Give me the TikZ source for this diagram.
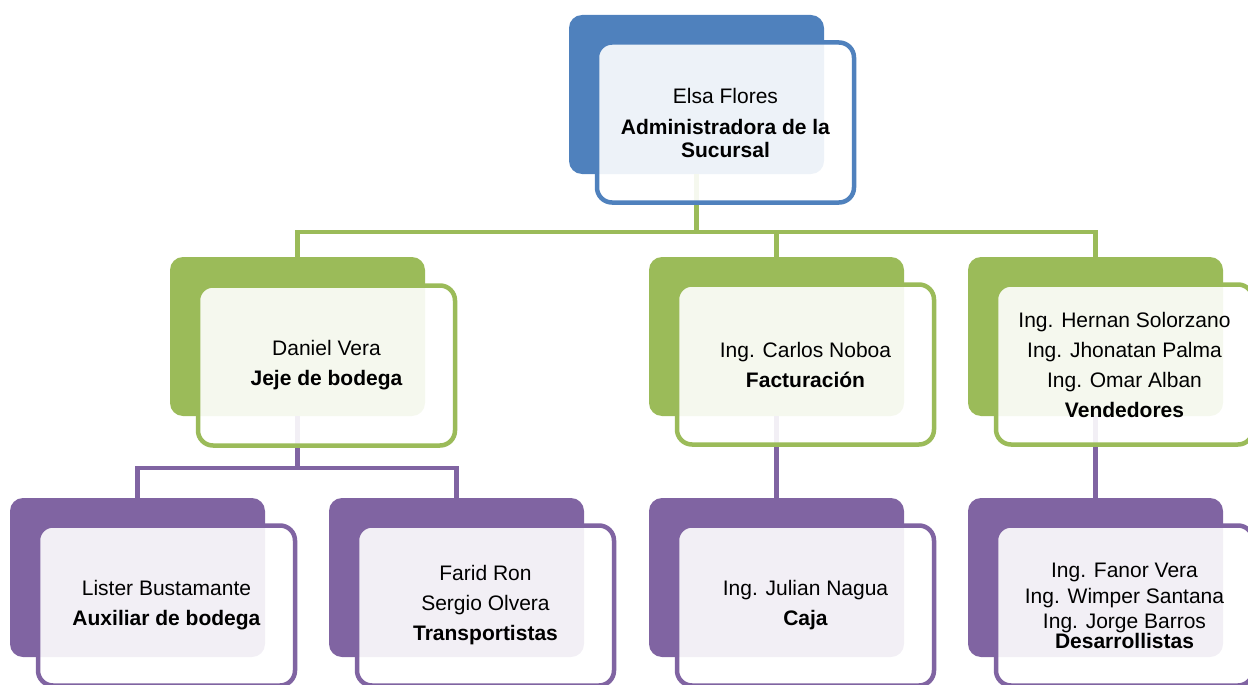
\documentclass[tikz,border=0pt]{standalone}
\usepackage{fontspec}
\setmainfont{Liberation Sans}
\usetikzlibrary{calc}
\definecolor{cblue}{HTML}{4F81BD}
\definecolor{cgreen}{HTML}{9BBB59}
\definecolor{cpurple}{HTML}{8064A2}
\begin{document}
\begin{tikzpicture}[x=1pt,y=-1pt,
  backbox/.style={draw=none, fill=#1, rounded corners=13pt, minimum width=255pt, minimum height=159pt, inner sep=0pt},
  frontbox/.style={draw=#1, line width=4.5pt, fill=white, fill opacity=0.9, text opacity=1, rounded corners=15pt, minimum width=257pt, minimum height=160pt, inner sep=0pt, align=center, font=\fontsize{21}{23}\selectfont},
  conn/.style={draw=#1, line width=4.5pt}
]
\useasboundingbox (0,0) rectangle (1248,685);
\clip (0,0) rectangle (1248,685);

% back boxes
\node[backbox=cblue]   (bT) at (696.5,94.5) {};
\node[backbox=cgreen]  (bA) at (297.5,336.5) {};
\node[backbox=cgreen]  (bB) at (776.5,336.5) {};
\node[backbox=cgreen]  (bC) at (1095.5,336.5) {};
\node[backbox=cpurple] (bL) at (137.5,577.5) {};
\node[backbox=cpurple] (bF) at (456.5,577.5) {};
\node[backbox=cpurple] (bJ) at (776.5,577.5) {};
\node[backbox=cpurple] (bD) at (1095.5,577.5) {};

% bus coordinates
\coordinate (busT) at (0,232);
\coordinate (busA) at (0,468);

% connectors
\draw[conn=cgreen] (bT.south) -- (bT.south |- busT) -| (bA.north);
\draw[conn=cgreen] (bT.south |- busT) -| (bB.north);
\draw[conn=cgreen] (bT.south |- busT) -| (bC.north);
\draw[conn=cpurple] (bA.south) -- (bA.south |- busA) -| (bL.north);
\draw[conn=cpurple] (bA.south |- busA) -| (bF.north);
\draw[conn=cpurple] (bB.south) -- (bJ.north);
\draw[conn=cpurple] (bC.south) -- (bD.north);

% front boxes with text
\node[frontbox=cblue] (fT) at ($(bT)+(29,28)$)
  {Elsa Flores\\[8pt]\textbf{Administradora de la}\\\textbf{Sucursal}};
\node[frontbox=cgreen] (fA) at ($(bA)+(29,29)$)
  {Daniel Vera\\[7pt]\textbf{Jeje de bodega}};
\node[frontbox=cgreen] (fB) at ($(bB)+(29,28)$)
  {Ing. Carlos Noboa\\[7pt]\textbf{Facturación}};
\node[frontbox=cgreen] (fC) at ($(bC)+(29,28)$)
  {Ing. Hernan Solorzano\\[7pt]Ing. Jhonatan Palma\\[7pt]Ing. Omar Alban\\[7pt]\textbf{Vendedores}};
\node[frontbox=cpurple] (fL) at ($(bL)+(29,28)$)
  {Lister Bustamante\\[7pt]\textbf{Auxiliar de bodega}};
\node[frontbox=cpurple] (fF) at ($(bF)+(29,28)$)
  {Farid Ron\\[7pt]Sergio Olvera\\[7pt]\textbf{Transportistas}};
\node[frontbox=cpurple] (fJ) at ($(bJ)+(29,28)$)
  {Ing. Julian Nagua\\[7pt]\textbf{Caja}};
\node[frontbox=cpurple] (fD) at ($(bD)+(29,28)$)
  {Ing. Fanor Vera\\[3pt]Ing. Wimper Santana\\[2pt]Ing. Jorge Barros\\[-3pt]\textbf{Desarrollistas}};
\end{tikzpicture}
\end{document}
